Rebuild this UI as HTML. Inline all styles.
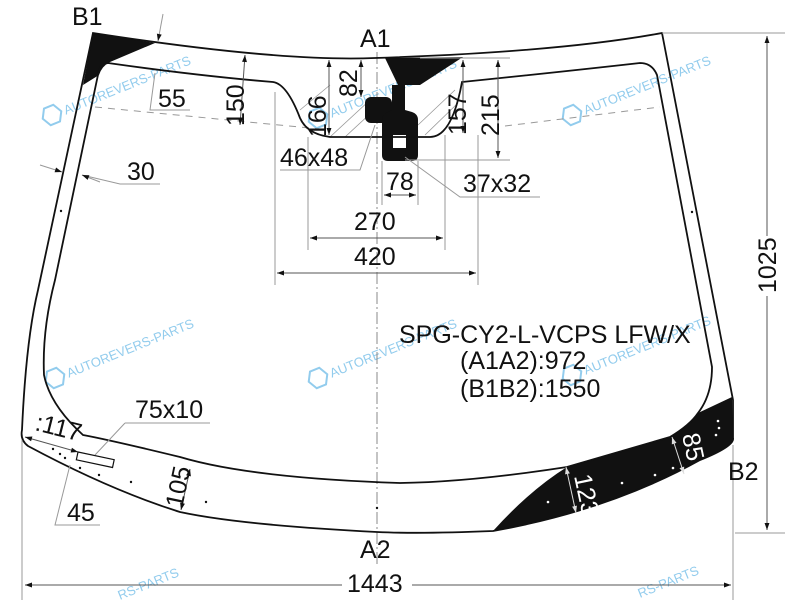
<!DOCTYPE html>
<html><head><meta charset="utf-8"><style>
html,body{margin:0;padding:0;background:#fff}
svg{display:block}
text{font-family:"Liberation Sans",sans-serif}
.wm{font-size:13px}
</style></head><body>
<svg width="800" height="600" viewBox="0 0 800 600" xmlns="http://www.w3.org/2000/svg">
<defs>
<marker id="a" viewBox="0 0 10 10" refX="10" refY="5" markerWidth="9" markerHeight="7" orient="auto-start-reverse"><path d="M0,1.5 L10,5 L0,8.5 z" fill="#111"/></marker>
<marker id="w" viewBox="0 0 10 10" refX="10" refY="5" markerWidth="9" markerHeight="7" orient="auto-start-reverse"><path d="M0,1.5 L10,5 L0,8.5 z" fill="#ddd"/></marker>
</defs>

<!-- watermarks -->
<g opacity="0.85" fill="#7fc3ea">
<g transform="translate(52,115) rotate(-22)"><polygon points="-10,0 -5,-9 5,-9 10,0 5,9 -5,9" fill="none" stroke="#7fc3ea" stroke-width="2"/><text class="wm" x="13" y="5" style="fill:#7fc3ea">AUTOREVERS-PARTS</text></g>
<g transform="translate(318,118) rotate(-22)"><polygon points="-10,0 -5,-9 5,-9 10,0 5,9 -5,9" fill="none" stroke="#7fc3ea" stroke-width="2"/><text class="wm" x="13" y="5" style="fill:#7fc3ea">AUTOREVERS-PARTS</text></g>
<g transform="translate(572,115) rotate(-22)"><polygon points="-10,0 -5,-9 5,-9 10,0 5,9 -5,9" fill="none" stroke="#7fc3ea" stroke-width="2"/><text class="wm" x="13" y="5" style="fill:#7fc3ea">AUTOREVERS-PARTS</text></g>
<g transform="translate(55,378) rotate(-22)"><polygon points="-10,0 -5,-9 5,-9 10,0 5,9 -5,9" fill="none" stroke="#7fc3ea" stroke-width="2"/><text class="wm" x="13" y="5" style="fill:#7fc3ea">AUTOREVERS-PARTS</text></g>
<g transform="translate(318,378) rotate(-22)"><polygon points="-10,0 -5,-9 5,-9 10,0 5,9 -5,9" fill="none" stroke="#7fc3ea" stroke-width="2"/><text class="wm" x="13" y="5" style="fill:#7fc3ea">AUTOREVERS-PARTS</text></g>
<g transform="translate(572,375) rotate(-22)"><polygon points="-10,0 -5,-9 5,-9 10,0 5,9 -5,9" fill="none" stroke="#7fc3ea" stroke-width="2"/><text class="wm" x="13" y="5" style="fill:#7fc3ea">AUTOREVERS-PARTS</text></g>
<g transform="translate(120,600) rotate(-22)"><text class="wm" x="0" y="0" style="fill:#7fc3ea">RS-PARTS</text></g>
<g transform="translate(640,598) rotate(-22)"><text class="wm" x="0" y="0" style="fill:#7fc3ea">RS-PARTS</text></g>
</g>

<!-- dashed line -->
<path d="M95,107 L330,130 M505,126 L660,107" stroke="#999" stroke-width="1" stroke-dasharray="7,6" fill="none"/>

<!-- center axis -->
<path d="M377,52 L377,565" stroke="#888" stroke-width="1" stroke-dasharray="12,3,2,3" fill="none"/>

<!-- black fills -->
<path d="M93,33 L155,43 L110,62 Q102,66 99,75 L83,85 Z" fill="#111"/>
<path d="M385,58 L463,57 L420,85 L398,85 Z" fill="#111"/>
<path d="M493,531 Q530,490 567,467 L670,437 Q690,425 698,413 L732,397 L733,438 Q735,446 700,460 Q610,510 493,531 Z" fill="#111"/>

<!-- hatch in notch -->
<g stroke="#999" stroke-width="0.8">
<line x1="330" y1="137" x2="370" y2="100"/><line x1="345" y1="137" x2="385" y2="100"/><line x1="418" y1="125" x2="455" y2="90"/><line x1="425" y1="135" x2="458" y2="103"/><line x1="300" y1="110" x2="330" y2="85"/>
</g>

<!-- mirror bracket -->
<rect x="365" y="97" width="27" height="26" rx="6" fill="#111"/>
<path d="M392,85 L405,85 L405,110 L412,112 Q418,114 418,120 L418,155 Q418,161 412,161 L388,161 Q382,161 382,155 L382,120 Q382,114 388,112 L392,110 Z" fill="#111"/>
<rect x="393" y="135" width="13" height="13" fill="#fff"/>

<!-- outer outline -->
<path d="M93,33 Q280,62 375,58 Q560,52 662,33 Q700,230 733,400 L733,438 Q735,446 700,460 Q610,510 493,531 Q420,534 377,532 Q240,525 180,512 Q110,490 28,446 Q20,440 22,430 Q26,340 38,290 L93,33 Z" fill="none" stroke="#111" stroke-width="1.8"/>

<!-- inner outline -->
<path d="M108,63 Q200,76 273,82 Q287,84 300,118 Q307,134 330,137 L430,137 Q452,137 462,82 Q560,72 640,63 Q652,63 657,75 L712,367 Q712,395 698,413 Q690,425 670,437 L567,467 Q470,482 400,483 Q250,478 180,457 Q110,440 83,435 Q50,405 44,375 Q42,330 55,280 L99,70 Q101,64 108,63 Z" fill="none" stroke="#111" stroke-width="1.8"/>

<!-- dots -->
<g fill="#111"><circle cx="61" cy="211" r="1.2"/><circle cx="692" cy="212" r="1.2"/><circle cx="377" cy="508" r="1.2"/><circle cx="206" cy="502" r="1.2"/><circle cx="131" cy="482" r="1.2"/><circle cx="99" cy="475" r="1.2"/><circle cx="80" cy="468" r="1.2"/><circle cx="53" cy="449" r="1.2"/><circle cx="60" cy="454" r="1.2"/><circle cx="65" cy="458" r="1.2"/></g>
<g fill="#fff"><circle cx="548" cy="502" r="1.3"/><circle cx="622" cy="483" r="1.3"/><circle cx="655" cy="475" r="1.3"/><circle cx="673" cy="468" r="1.3"/><circle cx="716" cy="435" r="1.3"/><circle cx="719" cy="428" r="1.3"/><circle cx="718" cy="421" r="1.3"/></g>

<!-- dimension lines -->
<g stroke="#999" stroke-width="1" fill="none">
<line x1="662" y1="33" x2="785" y2="33"/><line x1="735" y1="533" x2="785" y2="533"/>
<line x1="22" y1="440" x2="22" y2="600"/><line x1="733" y1="445" x2="733" y2="600"/>
<line x1="420" y1="58" x2="510" y2="58"/><line x1="405" y1="160" x2="510" y2="160"/>
<line x1="308" y1="137" x2="308" y2="250"/><line x1="445" y1="135" x2="445" y2="250"/>
<line x1="275" y1="92" x2="275" y2="285"/><line x1="478" y1="135" x2="478" y2="285"/>
<line x1="382" y1="161" x2="382" y2="205"/><line x1="418" y1="161" x2="418" y2="205"/>
<polyline points="155,73 150,110 190,110"/>
<polyline points="280,170 360,170 375,125"/>
<polyline points="540,197 460,197 405,157"/>
<polyline points="125,423 210,423"/><line x1="125" y1="423" x2="95" y2="455"/>
<polyline points="70,465 55,525 100,525"/>
<line x1="40" y1="165" x2="62" y2="172" marker-end="url(#a)"/>
<polyline points="160,184 120,184 82,175"/>
<line x1="100" y1="182" x2="82" y2="175" marker-end="url(#a)"/>
<line x1="163" y1="14" x2="158" y2="41" marker-end="url(#a)"/>
</g>
<g stroke="#555" stroke-width="1" fill="none">
<line x1="767" y1="36" x2="767" y2="530" marker-start="url(#a)" marker-end="url(#a)"/>
<line x1="25" y1="585" x2="731" y2="585" marker-start="url(#a)" marker-end="url(#a)"/>
<line x1="245" y1="55" x2="240" y2="125" marker-start="url(#a)" marker-end="url(#a)"/>
<line x1="329" y1="60" x2="329" y2="135" marker-start="url(#a)" marker-end="url(#a)"/>
<line x1="361" y1="60" x2="361" y2="97" marker-start="url(#a)" marker-end="url(#a)"/>
<line x1="463" y1="60" x2="463" y2="133" marker-start="url(#a)" marker-end="url(#a)"/>
<line x1="498" y1="60" x2="498" y2="158" marker-start="url(#a)" marker-end="url(#a)"/>
<line x1="384" y1="195" x2="416" y2="195" marker-start="url(#a)" marker-end="url(#a)"/>
<line x1="310" y1="238" x2="443" y2="238" marker-start="url(#a)" marker-end="url(#a)"/>
<line x1="277" y1="273" x2="476" y2="273" marker-start="url(#a)" marker-end="url(#a)"/>
<line x1="190" y1="469" x2="181" y2="510" marker-start="url(#a)" marker-end="url(#a)"/>
<line x1="25" y1="437" x2="78" y2="452" marker-start="url(#a)" marker-end="url(#a)"/>
</g>
<g stroke="#ddd" stroke-width="1" fill="none">
<line x1="566" y1="467" x2="576" y2="513" marker-start="url(#w)" marker-end="url(#w)"/>
<line x1="672" y1="437" x2="684" y2="474" marker-start="url(#w)" marker-end="url(#w)"/>
</g>
<rect x="78" y="452" width="37" height="8" transform="rotate(12 78 452)" fill="#fff" stroke="#111" stroke-width="1.2"/>

<!-- labels -->
<g font-size="25" style="fill:#111">
<text x="72" y="25">B1</text>
<text x="360" y="47">A1</text>
<text x="728" y="480">B2</text>
<text x="360" y="558">A2</text>
<rect x="342" y="568" width="70" height="28" fill="#fff"/>
<text x="347" y="592">1443</text>
<rect x="752" y="236" width="28" height="60" fill="#fff"/>
<text transform="translate(776,293) rotate(-90)">1025</text>
<text x="158" y="107">55</text>
<text transform="translate(244,126) rotate(-90)">150</text>
<text transform="translate(326,137) rotate(-90)">166</text>
<text transform="translate(357,97) rotate(-90)">82</text>
<text transform="translate(466,135) rotate(-90)">157</text>
<text transform="translate(499,136) rotate(-90)">215</text>
<text x="280" y="166">46x48</text>
<text x="386" y="190">78</text>
<text x="463" y="192">37x32</text>
<text x="354" y="230">270</text>
<text x="354" y="265">420</text>
<text x="127" y="180">30</text>
<text x="135" y="418">75x10</text>
<text transform="translate(34,430) rotate(14)">:117</text>
<text x="67" y="521">45</text>
<text transform="translate(182,509) rotate(-78)">105</text>
<text x="399" y="343">SPG-CY2-L-VCPS LFW/X</text>
<text x="460" y="369">(A1A2):972</text>
<text x="460" y="397">(B1B2):1550</text>
<text transform="translate(574,476) rotate(78)" style="fill:#fff">123</text>
<text transform="translate(682,435) rotate(78)" style="fill:#fff">85</text>
</g>
</svg>
</body></html>
